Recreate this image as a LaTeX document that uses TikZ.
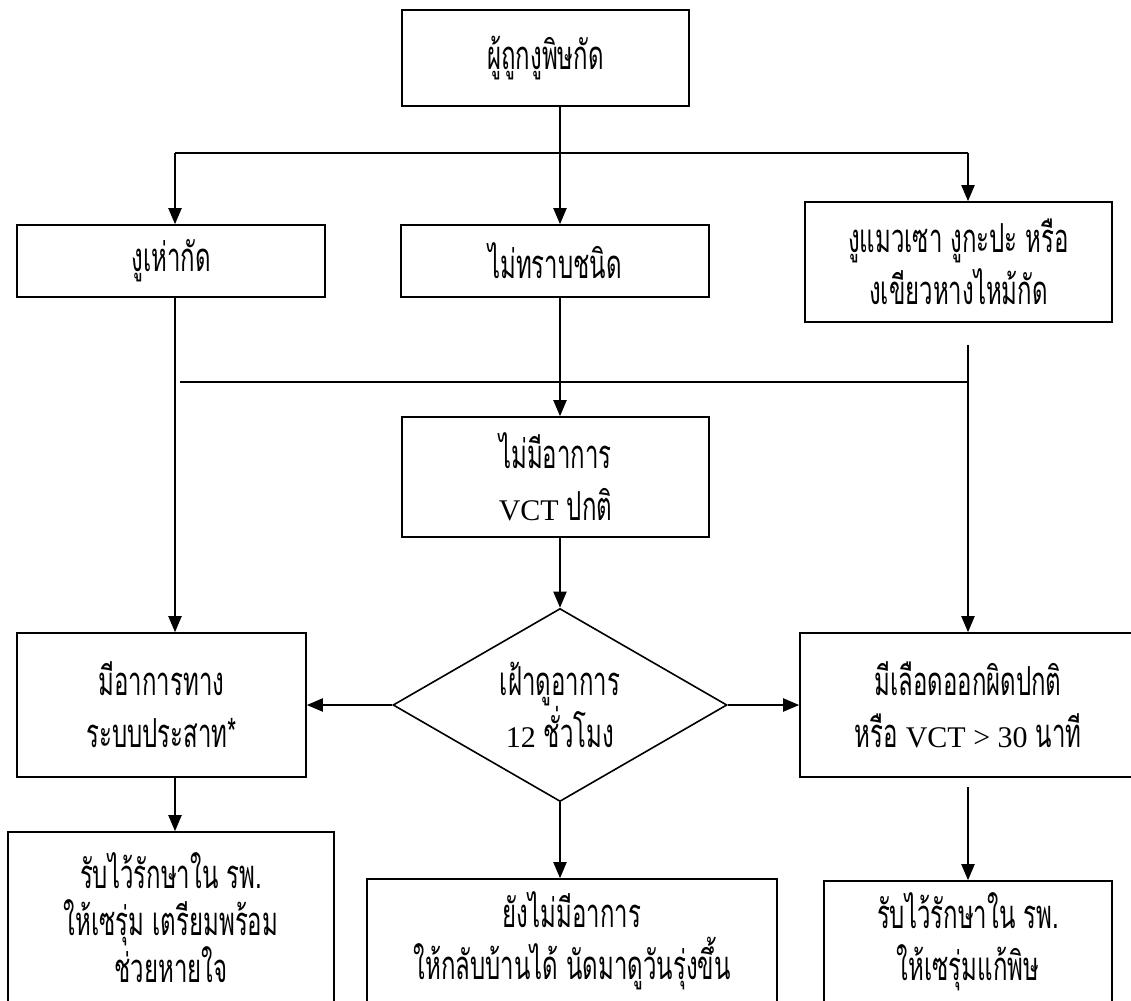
\documentclass[tikz,border=0pt]{standalone}
\usepackage{fontspec}
\usepackage{tikz}
\usetikzlibrary{arrows.meta}
\usetikzlibrary{shapes.geometric}
\newfontfamily\thaifont[Script=Thai,FakeStretch=0.6]{Loma}
\newfontfamily\latinfont{Liberation Serif}
\tikzset{box/.style={draw,line width=1.6pt,align=center,inner sep=0pt,
                     font=\thaifont\fontsize{40}{52}\selectfont},
         flow/.style={line width=2pt,-{Triangle[length=16pt,width=13pt]}},
         link/.style={line width=2pt}}
\newcommand{\lat}[1]{{\latinfont\fontsize{30}{52}\selectfont #1}}

\begin{document}
\begin{tikzpicture}[x=1pt,y=-1pt]
\useasboundingbox[fill=white] (0,0) rectangle (1131,1000);
\node[box,minimum width=287,minimum height=96] (bite) at (545.5,58) {ผู้ถูกงูพิษกัด};
\node[box,minimum width=308,minimum height=72] (cobra) at (171,261) {งูเห่ากัด};
\node[box,minimum width=308,minimum height=72] (unknown) at (555,261) {ไม่ทราบชนิด};
\node[box,minimum width=307,minimum height=120] (viper) at (958.5,262) {งูแมวเซา งูกะปะ หรือ\\งเขียวหางไหม้กัด};
\node[box,minimum width=307,minimum height=120] (normal) at (555.5,477) {ไม่มีอาการ\\\lat{VCT} ปกติ};
\node[box,diamond,aspect=1.73,minimum width=334,minimum height=193] (watch) at (560,705) {เฝ้าดูอาการ\\\lat{12} ชั่วโมง};
\node[box,minimum width=289,minimum height=144] (neuro) at (161.5,705) {มีอาการทาง\\ระบบประสาท*};
\node[box,minimum width=336,minimum height=144] (bleed) at (968,705) {มีเลือดออกผิดปกติ\\หรือ \lat{VCT > 30} นาที};
\node[box,minimum width=326,minimum height=172,font=\thaifont\fontsize{40}{47}\selectfont] (admitA) at (171,918) {รับไว้รักษาใน รพ.\\ให้เซรุ่ม เตรียมพร้อม\\ช่วยหายใจ};
\node[box,minimum width=410,minimum height=124] (home) at (572,941) {ยังไม่มีอาการ\\ให้กลับบ้านได้ นัดมาดูวันรุ่งขึ้น};
\node[box,minimum width=288,minimum height=122] (admitB) at (968,942) {รับไว้รักษาใน รพ.\\ให้เซรุ่มแก้พิษ};
\coordinate (split) at (560,153);
\coordinate (lft) at (175,153);
\coordinate (rgt) at (968,153);
\coordinate (rtop) at (968,345);
\coordinate (jl) at (180,382);
\coordinate (jr) at (968,382);
\coordinate (rbot) at (968,787);
\draw[link] (bite.south -| split) -- (split);
\draw[link] (lft) -- (rgt);
\draw[flow] (lft) -- (lft |- cobra.north);
\draw[flow] (split) -- (split |- unknown.north);
\draw[flow] (rgt) -- (rgt |- viper.north);
\draw[flow] (lft |- cobra.south) -- (lft |- neuro.north);
\draw[flow] (split |- unknown.south) -- (split |- normal.north);
\draw[flow] (rtop) -- (rtop |- bleed.north);
\draw[link] (jl) -- (jr);
\draw[flow] (split |- normal.south) -- (watch.north);
\draw[flow] (watch.west) -- (neuro.east);
\draw[flow] (watch.east) -- (bleed.west);
\draw[flow] (lft |- neuro.south) -- (lft |- admitA.north);
\draw[flow] (watch.south) -- (watch.south |- home.north);
\draw[flow] (rbot) -- (rbot |- admitB.north);
\end{tikzpicture}
\end{document}
